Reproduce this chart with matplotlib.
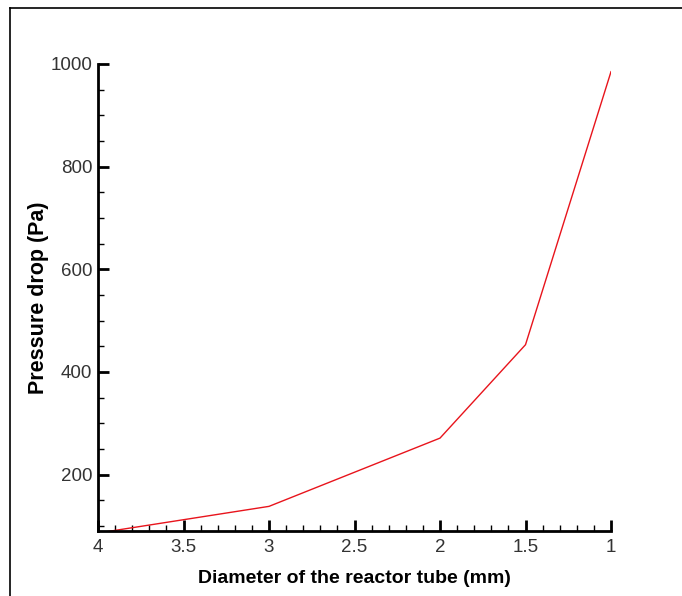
import matplotlib.pyplot as plt
from matplotlib.lines import Line2D
from matplotlib.ticker import MultipleLocator

plt.rcParams['font.family'] = ['Liberation Sans', 'DejaVu Sans']

# tube diameter (mm) vs pressure drop (Pa)
diameter = [4, 3, 2, 1.5, 1]
pressure = [86, 138, 271, 453, 985]

fig = plt.figure(figsize=(6.82, 5.96), dpi=100)
ax = fig.add_axes([98 / 682, 1 - 531 / 596, (611 - 98) / 682, (531 - 64) / 596])

ax.plot(diameter, pressure, color='#e8141c', linewidth=1.0)

ax.set_xlim(4, 1)
ax.set_ylim(90, 1000)
ax.xaxis.set_major_locator(MultipleLocator(0.5))
ax.xaxis.set_minor_locator(MultipleLocator(0.1))
ax.yaxis.set_major_locator(MultipleLocator(200))
ax.yaxis.set_minor_locator(MultipleLocator(50))
ax.xaxis.set_major_formatter(plt.FuncFormatter(lambda v, p: f'{v:g}'))

for side in ['top', 'right']:
    ax.spines[side].set_visible(False)
for side in ['left', 'bottom']:
    ax.spines[side].set_linewidth(2)

ax.tick_params(which='major', direction='in', length=8, width=2,
               labelsize=13.5, labelcolor='#333333', pad=4)
ax.tick_params(axis='x', which='major', pad=6)
ax.tick_params(which='minor', direction='in', length=4, width=1)

ax.set_xlabel('Diameter of the reactor tube (mm)', fontsize=14,
              fontweight='bold', labelpad=10)
ax.set_ylabel('Pressure drop (Pa)', fontsize=15.5, fontweight='bold')
ax.yaxis.set_label_coords(-0.095, 0.5)

# outer frame
fig.add_artist(Line2D([10 / 682, 10 / 682], [0, 1 - 8 / 596],
                      transform=fig.transFigure, color='black', linewidth=1.2))
fig.add_artist(Line2D([10 / 682, 1], [1 - 8 / 596, 1 - 8 / 596],
                      transform=fig.transFigure, color='black', linewidth=1.2))

fig.savefig('out.png', dpi=100)
